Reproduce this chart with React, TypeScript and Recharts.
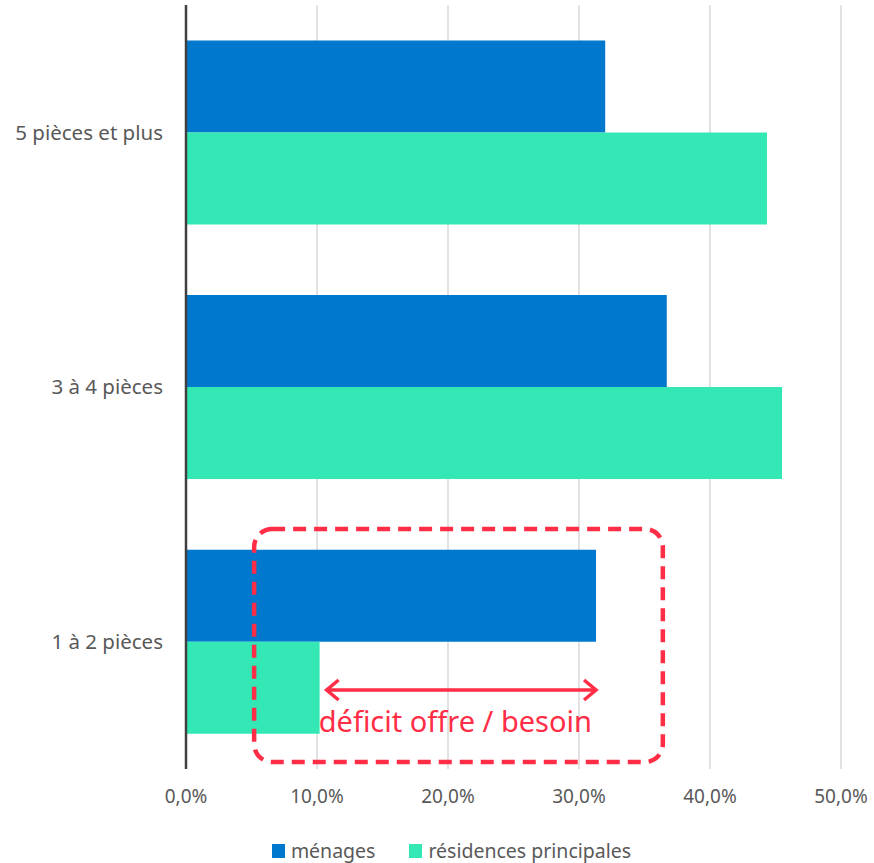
import React from "react";
import {
  BarChart,
  Bar,
  XAxis,
  YAxis,
  CartesianGrid,
  Legend,
} from "recharts";

const categories = ["5 pièces et plus", "3 à 4 pièces", "1 à 2 pièces"];
const menages = [32.0, 36.7, 31.3];
const residences = [44.35, 45.5, 10.2];
const xTicks = [0, 10, 20, 30, 40, 50];

const BLUE = "#0078CE";
const GREEN = "#33E8B5";
const RED = "#FF2D46";
const TEXT = "#595959";
const FONT = "'Noto Sans', sans-serif";

const W = 874;
const H = 863;
const margin = { top: 5, right: 33, left: 0, bottom: 8 };
const yAxisWidth = 186;

const data = categories.map((c, i) => ({
  name: c,
  menages: menages[i],
  residences: residences[i],
}));

// same linear mapping as the x axis, for the overlay annotation
const plotLeft = margin.left + yAxisWidth;
const plotRight = W - margin.right;
const xs = (v: number) => plotLeft + (v / 50) * (plotRight - plotLeft);

const fmt = (v: number) => v.toFixed(1).replace(".", ",") + "%";

function LegendContent() {
  const item = (color: string, label: string, gap: number) => (
    <span style={{ display: "inline-flex", alignItems: "center", marginRight: gap }}>
      <span style={{ width: 13, height: 14, background: color, marginRight: 6, display: "inline-block" }} />
      <span style={{ fontSize: 19.5, lineHeight: "22px", color: TEXT, fontFamily: FONT }}>{label}</span>
    </span>
  );
  return (
    <div style={{ textAlign: "center", paddingLeft: 62, lineHeight: "22px" }}>
      {item(BLUE, "ménages", 34)}
      {item(GREEN, "résidences principales", 0)}
    </div>
  );
}

function Deficit() {
  const x1 = xs(residences[2]) + 7;
  const x2 = xs(menages[2]);
  const y = 690;
  const h = 10;
  return (
    <svg
      width={W}
      height={H}
      style={{ position: "absolute", left: 0, top: 0, pointerEvents: "none" }}
    >
      <rect
        x={xs(5.2)}
        y={529}
        width={xs(36.4) - xs(5.2)}
        height={233}
        rx={18}
        fill="none"
        stroke={RED}
        strokeWidth={4.5}
        strokeDasharray="13 8"
      />
      <line x1={x1} y1={y} x2={x2} y2={y} stroke={RED} strokeWidth={3.5} />
      <polyline
        points={`${x1 + 12},${y - h} ${x1},${y} ${x1 + 12},${y + h}`}
        fill="none"
        stroke={RED}
        strokeWidth={3.5}
      />
      <polyline
        points={`${x2 - 12},${y - h} ${x2},${y} ${x2 - 12},${y + h}`}
        fill="none"
        stroke={RED}
        strokeWidth={3.5}
      />
      <text
        x={(x1 + x2) / 2 - 6}
        y={732}
        textAnchor="middle"
        fontSize={29}
        fill={RED}
        fontFamily={FONT}
      >
        déficit offre / besoin
      </text>
    </svg>
  );
}

export default function App() {
  return (
    <div style={{ position: "absolute", left: 0, top: 0, width: W, height: H, background: "#fff" }}>
      <BarChart
        width={W}
        height={H}
        data={data}
        layout="vertical"
        margin={margin}
        barGap={0}
        barCategoryGap="13.9%"
      >
        <CartesianGrid horizontal={false} stroke="#D9D9D9" strokeWidth={1.5} />
        <XAxis
          type="number"
          domain={[0, 50]}
          ticks={xTicks}
          tickFormatter={fmt}
          axisLine={false}
          tickLine={false}
          tickSize={0}
          tickMargin={21}
          height={50}
          tick={{ fontSize: 19, fill: TEXT, fontFamily: FONT }}
        />
        <YAxis
          type="category"
          dataKey="name"
          width={yAxisWidth}
          axisLine={{ stroke: "#404040", strokeWidth: 2.5 }}
          tickLine={false}
          tickSize={0}
          tickMargin={23}
          tick={{ fontSize: 20.5, fill: TEXT, fontFamily: FONT }}
        />
        <Legend
          verticalAlign="bottom"
          height={36}
          wrapperStyle={{ bottom: -13 }}
          content={<LegendContent />}
        />
        <Bar dataKey="menages" name="ménages" fill={BLUE} isAnimationActive={false} />
        <Bar dataKey="residences" name="résidences principales" fill={GREEN} isAnimationActive={false} />
      </BarChart>
      <Deficit />
    </div>
  );
}
